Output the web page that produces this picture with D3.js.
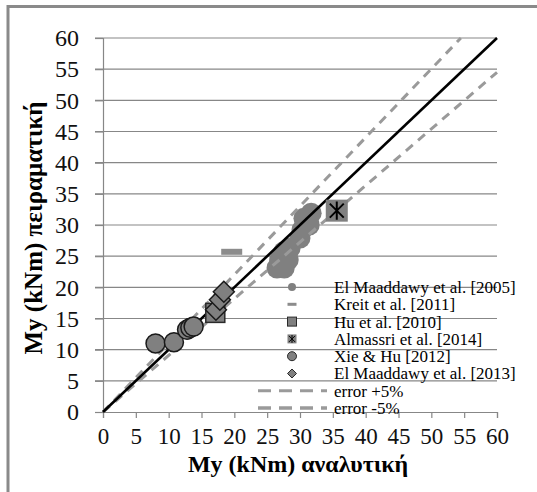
<!DOCTYPE html>
<html>
<head>
<meta charset="utf-8">
<script src="https://cdn.jsdelivr.net/npm/d3@7"></script>
<style>
  html, body { margin: 0; padding: 0; background: #fff; }
  svg { display: block; }
  svg text { font-family: "Liberation Serif", "Times New Roman", Times, serif; }
</style>
</head>
<body>
<svg id="chart" width="537" height="492"></svg>
<script>
// ---- Data ----
const ticks = [0, 5, 10, 15, 20, 25, 30, 35, 40, 45, 50, 55, 60];
const elMaaddawy2005 = [[31.7,31.9],[30.6,31.1],[31.4,30.0],[30.3,29.2],[30.0,27.9],[28.5,26.3],[27.5,25.7],[26.9,24.4],[28.2,24.4],[26.5,23.1],[27.6,23.1]];
const kreit2011 = [[19.6,25.7]];
const hu2010 = [[17.1,15.9]];
const almassri2014 = [[35.6,32.3]];
const xieHu2012 = [[8.0,11.0],[10.8,11.2],[12.8,13.2],[13.3,13.5],[13.8,13.7]];
const elMaaddawy2013 = [[17.2,16.4],[17.8,18.0],[18.4,19.3]];
const equalityLine = [[0,0],[60,60]];
const errorPlus = [[0,0],[54.5,60]];
const errorMinus = [[0,0],[60,54.5]];
const legendLabels = ["El Maaddawy et al. [2005]","Kreit et al. [2011]","Hu et al. [2010]","Almassri et al. [2014]","Xie & Hu [2012]","El Maaddawy et al. [2013]","error +5%","error -5%"];
const xTitle = "My (kNm) αναλυτική";
const yTitle = "My (kNm) πειραματική";

// ---- Layout ----
const FONT = '"Liberation Serif", "Times New Roman", Times, serif';
const svg = d3.select("#chart");
const x = d3.scaleLinear().domain([0, 60]).range([103, 497]);
const y = d3.scaleLinear().domain([0, 60]).range([412, 38]);
const gridCol = "#878787";
const markFill = "#808080";
const dashCol = "#9a9a9a";

// outer frame
svg.append("path").attr("d", "M8,492 L8,6.5 L537,6.5")
  .attr("fill", "none").attr("stroke", "#8a8a8a").attr("stroke-width", 3);

// horizontal gridlines
svg.append("g").selectAll("line").data(ticks.filter(t => t > 0)).join("line")
  .attr("x1", 95).attr("x2", x(60))
  .attr("y1", d => y(d)).attr("y2", d => y(d))
  .attr("stroke", gridCol).attr("stroke-width", 1.2);

// y axis
const yAxis = svg.append("g").attr("transform", `translate(${x(0)},0)`)
  .call(d3.axisLeft(y).tickValues(ticks).tickSize(8).tickPadding(16))
  .attr("font-family", FONT);
yAxis.select(".domain").attr("stroke", gridCol).attr("stroke-width", 1.2);
yAxis.selectAll(".tick line").attr("stroke", gridCol).attr("stroke-width", 1.2);
yAxis.selectAll(".tick text").attr("font-size", 24).attr("fill", "#111");

// x axis
const xAxis = svg.append("g").attr("transform", `translate(0,${y(0)})`)
  .call(d3.axisBottom(x).tickValues(ticks).tickSize(6).tickPadding(10))
  .attr("font-family", FONT);
xAxis.select(".domain").attr("stroke", gridCol).attr("stroke-width", 1.2);
xAxis.selectAll(".tick line").attr("stroke", gridCol).attr("stroke-width", 1.2);
xAxis.selectAll(".tick text").attr("font-size", 23).attr("fill", "#111");

// axis titles
svg.append("text").attr("x", 298).attr("y", 472).attr("text-anchor", "middle")
  .attr("font-size", 24).attr("font-weight", "bold").text(xTitle);
svg.append("text").attr("transform", "translate(42,228) rotate(-90)")
  .attr("text-anchor", "middle").attr("font-size", 25).attr("font-weight", "bold").text(yTitle);

const line = d3.line().x(d => x(d[0])).y(d => y(d[1]));

// El Maaddawy 2005 (large gray circles, no border)
svg.append("g").selectAll("circle").data(elMaaddawy2005).join("circle")
  .attr("cx", d => x(d[0])).attr("cy", d => y(d[1])).attr("r", 10.5)
  .attr("fill", markFill);

// reference lines
svg.append("path").datum(errorPlus).attr("d", line).attr("fill", "none")
  .attr("stroke", dashCol).attr("stroke-width", 3).attr("stroke-dasharray", "9,7");
svg.append("path").datum(errorMinus).attr("d", line).attr("fill", "none")
  .attr("stroke", dashCol).attr("stroke-width", 3).attr("stroke-dasharray", "9,7");
svg.append("path").datum(equalityLine).attr("d", line).attr("fill", "none")
  .attr("stroke", "#000").attr("stroke-width", 2.6);

// Kreit 2011 (gray dash)
svg.append("g").selectAll("rect").data(kreit2011).join("rect")
  .attr("x", d => x(d[0]) - 10.5).attr("y", d => y(d[1]) - 3)
  .attr("width", 21).attr("height", 6).attr("fill", "#8c8c8c");

// Xie & Hu 2012 (circles with border)
svg.append("g").selectAll("circle").data(xieHu2012).join("circle")
  .attr("cx", d => x(d[0])).attr("cy", d => y(d[1])).attr("r", 9.5)
  .attr("fill", markFill).attr("stroke", "#1a1a1a").attr("stroke-width", 1.5);

// Hu 2010 (squares with border)
svg.append("g").selectAll("rect").data(hu2010).join("rect")
  .attr("x", d => x(d[0]) - 9.5).attr("y", d => y(d[1]) - 9.5)
  .attr("width", 19).attr("height", 19)
  .attr("fill", markFill).attr("stroke", "#2a2a2a").attr("stroke-width", 1.5);

// El Maaddawy 2013 (diamonds with border)
const diamond = (cx, cy, r) => `M${cx},${cy - r}L${cx + r},${cy}L${cx},${cy + r}L${cx - r},${cy}Z`;
svg.append("g").selectAll("path").data(elMaaddawy2013).join("path")
  .attr("d", d => diamond(x(d[0]), y(d[1]), 10.5))
  .attr("fill", markFill).attr("stroke", "#1a1a1a").attr("stroke-width", 1.5);

// Almassri 2014 (square with asterisk)
const asterisk = (cx, cy, r) => `M${cx - r},${cy - r}L${cx + r},${cy + r}M${cx - r},${cy + r}L${cx + r},${cy - r}M${cx},${cy - r * 1.3}L${cx},${cy + r * 1.3}`;
const alm = svg.append("g").selectAll("g").data(almassri2014).join("g");
alm.append("rect").attr("x", d => x(d[0]) - 11).attr("y", d => y(d[1]) - 11)
  .attr("width", 22).attr("height", 22).attr("fill", markFill);
alm.append("path").attr("d", d => asterisk(x(d[0]), y(d[1]), 7))
  .attr("fill", "none").attr("stroke", "#000").attr("stroke-width", 2);

// ---- Legend ----
const lgX = 292, lgTextX = 334, lgY0 = 287, lgStep = 17.3;
const lg = svg.append("g");
legendLabels.forEach((lab, i) => {
  const cy = lgY0 + i * lgStep;
  lg.append("text").attr("x", lgTextX).attr("y", cy).attr("dy", "0.35em")
    .attr("font-size", 17).attr("fill", "#000").text(lab);
  if (i === 0) {
    lg.append("circle").attr("cx", lgX).attr("cy", cy).attr("r", 4).attr("fill", markFill);
  } else if (i === 1) {
    lg.append("rect").attr("x", lgX - 4.5).attr("y", cy - 1.5).attr("width", 9).attr("height", 3).attr("fill", "#8c8c8c");
  } else if (i === 2) {
    lg.append("rect").attr("x", lgX - 4.5).attr("y", cy - 4.5).attr("width", 9).attr("height", 9)
      .attr("fill", markFill).attr("stroke", "#2a2a2a").attr("stroke-width", 1);
  } else if (i === 3) {
    lg.append("rect").attr("x", lgX - 4.5).attr("y", cy - 4.5).attr("width", 9).attr("height", 9).attr("fill", markFill);
    lg.append("path").attr("d", asterisk(lgX, cy, 3)).attr("fill", "none").attr("stroke", "#000").attr("stroke-width", 1);
  } else if (i === 4) {
    lg.append("circle").attr("cx", lgX).attr("cy", cy).attr("r", 4.5)
      .attr("fill", markFill).attr("stroke", "#2a2a2a").attr("stroke-width", 1);
  } else if (i === 5) {
    lg.append("path").attr("d", diamond(lgX, cy, 4.5))
      .attr("fill", markFill).attr("stroke", "#2a2a2a").attr("stroke-width", 1);
  } else {
    lg.append("line").attr("x1", 258).attr("x2", 327).attr("y1", cy).attr("y2", cy)
      .attr("stroke", dashCol).attr("stroke-width", i === 6 ? 3 : 3.5).attr("stroke-dasharray", "13,8");
  }
});
</script>
</body>
</html>
